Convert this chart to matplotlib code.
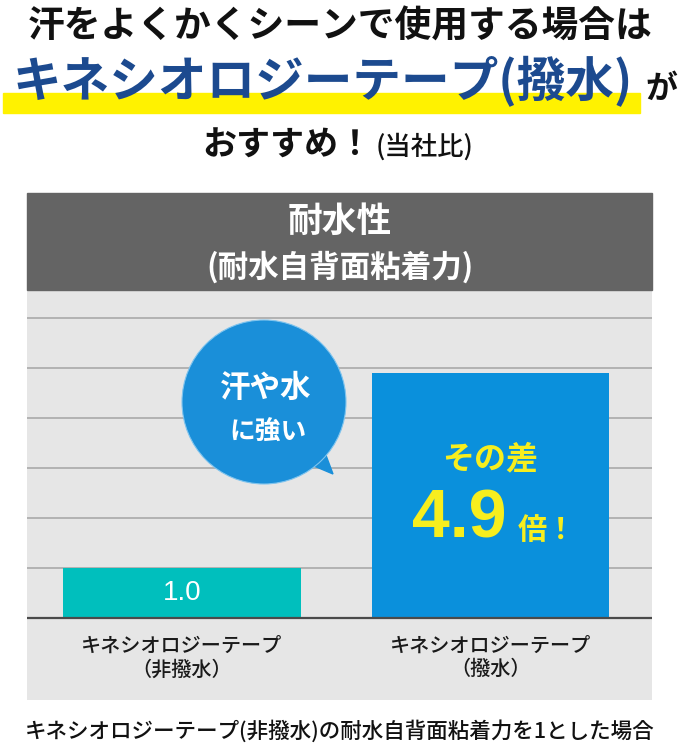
import matplotlib
matplotlib.use("Agg")
import matplotlib.pyplot as plt
from matplotlib.patches import Circle, Polygon, Rectangle

plt.rcParams['font.family'] = ['Noto Sans CJK JP', 'DejaVu Sans']

W, H = 679, 751

# chart data
CATEGORIES = ["キネシオロジーテープ\n（非撥水）", "キネシオロジーテープ\n（撥水）"]
VALUES = [1.0, 4.9]
GRID_LEVELS = [1, 2, 3, 4, 5, 6]
BAR_COLORS = ["#00bfbd", "#0a90dc"]

TITLE_1 = "汗をよくかくシーンで使用する場合は"
TITLE_2 = "キネシオロジーテープ(撥水)"
TITLE_2_TAIL = "が"
TITLE_3 = "おすすめ！"
TITLE_3_NOTE = "(当社比)"
HEADER = "耐水性"
HEADER_SUB = "(耐水自背面粘着力)"
BUBBLE = ["汗や水", "に強い"]
DIFF = "その差"
RATIO_UNIT = "倍！"
FOOTNOTE = "キネシオロジーテープ(非撥水)の耐水自背面粘着力を1とした場合"


def fx(px):
    return px / W


def fy(py):
    return 1 - py / H


fig = plt.figure(figsize=(W / 100, H / 100), dpi=100)
fig.patch.set_facecolor("white")

# ---- bar chart area (light grey panel, baseline at y=618 px, 50 px per unit)
ax = fig.add_axes([fx(27), fy(700), fx(652) - fx(27), fy(290) - fy(700)])
ax.set_facecolor("#e6e6e6")
ax.set_xlim(-0.502, 1.523)
ax.set_ylim(-1.64, 6.56)
for lvl in GRID_LEVELS:
    ax.axhline(lvl, color="#a9a9a9", lw=1.2, zorder=1)
ax.axhline(0, color="#4a4a4a", lw=1.6, zorder=3)
xs = list(range(len(VALUES)))
ax.bar(xs, VALUES, width=0.77, color=BAR_COLORS, zorder=2)
for x, lab in zip(xs, CATEGORIES):
    ax.text(x, -0.8, lab, ha="center", va="center", fontsize=14.5,
            fontweight="medium", color="#1a1a1a", linespacing=1.3)
ax.text(xs[0], VALUES[0] / 2, f"{VALUES[0]:.1f}", ha="center", va="center",
        fontsize=20, color="white", family=["Liberation Sans", "DejaVu Sans"])
for s in ax.spines.values():
    s.set_visible(False)
ax.set_xticks([])
ax.set_yticks([])

# ---- overlay in pixel coordinates for headings and callouts
ov = fig.add_axes([0, 0, 1, 1], zorder=5)
ov.set_xlim(0, W)
ov.set_ylim(H, 0)
ov.axis("off")
ov.patch.set_alpha(0)

# title block
ov.text(340, 27, TITLE_1, ha="center", va="center", fontsize=26.5,
        fontweight="bold", color="#111111")
ov.add_patch(Rectangle((3, 93), 637, 20, color="#fff200", zorder=1))
ov.text(13, 82, TITLE_2, ha="left", va="center", fontsize=35,
        fontweight="bold", color="#1c4a8f", zorder=2)
ov.text(645, 89, TITLE_2_TAIL, ha="left", va="center", fontsize=23,
        fontweight="bold", color="#111111")
ov.text(202, 145, TITLE_3, ha="left", va="center", fontsize=24.5,
        fontweight="bold", color="#111111")
ov.text(376, 147, TITLE_3_NOTE, ha="left", va="center", fontsize=19,
        fontweight="medium", color="#111111")

# dark header band
ov.add_patch(Rectangle((27, 193), 625, 97, color="#646464", zorder=1))
ov.text(340, 221, HEADER, ha="center", va="center", fontsize=25,
        fontweight="bold", color="white", zorder=2)
ov.text(340, 267, HEADER_SUB, ha="center", va="center", fontsize=22,
        fontweight="bold", color="white", zorder=2)

# speech bubble
ov.add_patch(Polygon([(307, 463), (324, 450), (333, 474)], closed=True,
                     color="#1a8fd9", zorder=2))
ov.add_patch(Circle((264, 402), 82, facecolor="#1a8fd9",
                    edgecolor="#7fc4ee", lw=0.8, zorder=3))
ov.text(266, 388, BUBBLE[0], ha="center", va="center", fontsize=22,
        fontweight="bold", color="white", zorder=4)
ov.text(268, 432, BUBBLE[1], ha="center", va="center", fontsize=18.5,
        fontweight="bold", color="white", zorder=4)

# ratio text inside the taller bar
ratio = VALUES[1] / VALUES[0]
ov.text(490, 459, DIFF, ha="center", va="center", fontsize=23,
        fontweight="bold", color="#f7ee1e")
ov.text(412, 520, f"{ratio:.1f}", ha="left", va="center", fontsize=49,
        fontweight="bold", color="#f7ee1e",
        family=["Liberation Sans", "DejaVu Sans"])
ov.text(518, 530, RATIO_UNIT, ha="left", va="center", fontsize=21,
        fontweight="bold", color="#f7ee1e")

# footnote
ov.text(340, 731, FOOTNOTE, ha="center", va="center", fontsize=15.5,
        fontweight="medium", color="#111111")

fig.savefig("out.png", dpi=100)
